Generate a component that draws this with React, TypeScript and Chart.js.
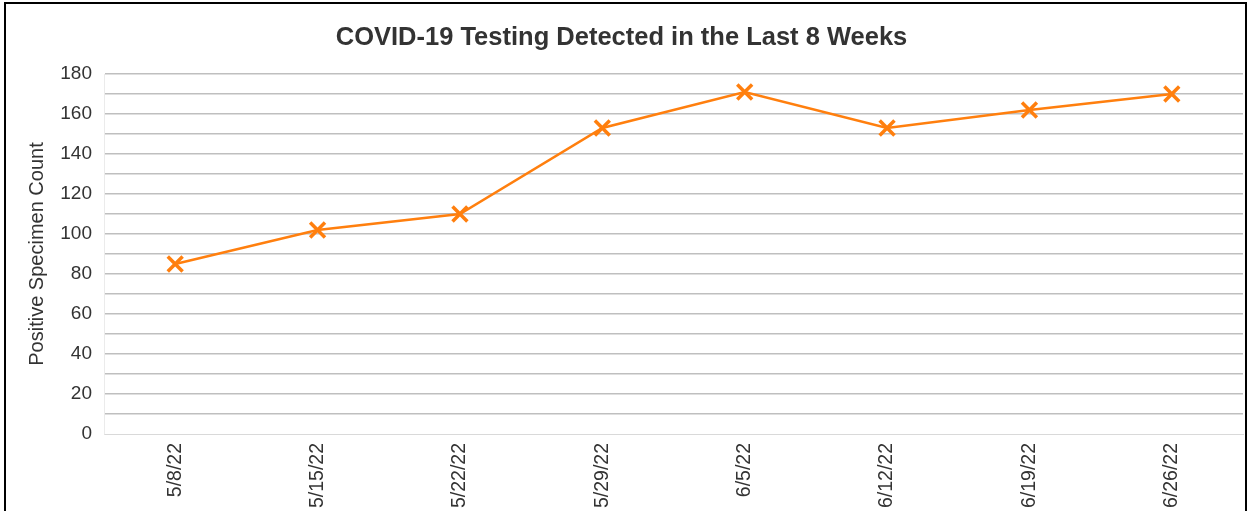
import React, { useEffect, useRef } from "react";
import { Chart, registerables } from "chart.js";

Chart.register(...registerables);

const categories = ["5/8/22", "5/15/22", "5/22/22", "5/29/22", "6/5/22", "6/12/22", "6/19/22", "6/26/22"];
const positiveCounts = [85, 102, 110, 153, 171, 153, 162, 170];
const titleText = "COVID-19 Testing Detected in the Last 8 Weeks";
const yAxisTitle = "Positive Specimen Count";
const yMin = 0;
const yMax = 180;
const yStep = 10;
const yLabelEvery = 20;

const FONT = "'Liberation Sans', Arial, sans-serif";

export default function App() {
  const ref = useRef<HTMLCanvasElement | null>(null);

  useEffect(() => {
    if (!ref.current) return;
    const chart = new Chart(ref.current, {
      type: "line",
      data: {
        labels: categories,
        datasets: [
          {
            data: positiveCounts,
            borderColor: "#ff7f0e",
            backgroundColor: "#ff7f0e",
            borderWidth: 2.5,
            pointStyle: "crossRot",
            pointRadius: 10.5,
            pointBorderWidth: 3.5,
            pointBorderColor: "#ff7f0e",
            tension: 0,
          },
        ],
      },
      options: {
        animation: false,
        responsive: false,
        maintainAspectRatio: false,
        layout: { autoPadding: false, padding: { left: 0, right: 6, top: 0, bottom: 0 } },
        plugins: {
          legend: { display: false },
          tooltip: { enabled: false },
          title: {
            display: true,
            text: titleText,
            color: "#333333",
            font: { family: FONT, size: 25.5, weight: "bold" },
            padding: { top: 22.2, bottom: 21.2 },
          },
        },
        scales: {
          x: {
            offset: true,
            grid: { display: false, drawTicks: false },
            border: { display: true, color: "#d9d9d9", width: 1 },
            ticks: {
              color: "#333333",
              font: { family: FONT, size: 19.5 },
              minRotation: 90,
              maxRotation: 90,
              padding: 9,
            },
            afterFit: (scale: any) => {
              scale.height = 77;
              scale.paddingLeft = 0;
              scale.paddingRight = 0;
            },
          },
          y: {
            min: yMin,
            max: yMax,
            grid: {
              drawTicks: false,
              lineWidth: 1.5,
              color: (ctx: any) => (ctx.tick && ctx.tick.value === 0 ? "rgba(0,0,0,0)" : "#bfbfbf"),
            },
            border: { display: true, color: "#ebebeb", width: 1 },
            ticks: {
              stepSize: yStep,
              color: "#333333",
              font: { family: FONT, size: 19 },
              padding: 12,
              autoSkip: false,
              callback: (v: any) => (Number(v) % yLabelEvery === 0 ? String(v) : ""),
            },
            title: {
              display: true,
              text: yAxisTitle,
              color: "#333333",
              font: { family: FONT, size: 20 },
              padding: { top: 25, bottom: 0 },
            },
            afterFit: (scale: any) => {
              scale.width = 104;
              scale.paddingTop = 0;
              scale.paddingBottom = 0;
            },
          },
        },
      },
    });
    return () => chart.destroy();
  }, []);

  return (
    <div style={{ position: "fixed", left: 0, top: 0, width: 1249, height: 511, background: "#fff", overflow: "hidden" }}>
      <canvas ref={ref} width={1249} height={511} style={{ position: "absolute", left: 0, top: 0 }} />
      <div
        style={{
          position: "absolute",
          left: 4,
          top: 2,
          width: 1239,
          height: 600,
          border: "2px solid #000",
          pointerEvents: "none",
        }}
      />
    </div>
  );
}
